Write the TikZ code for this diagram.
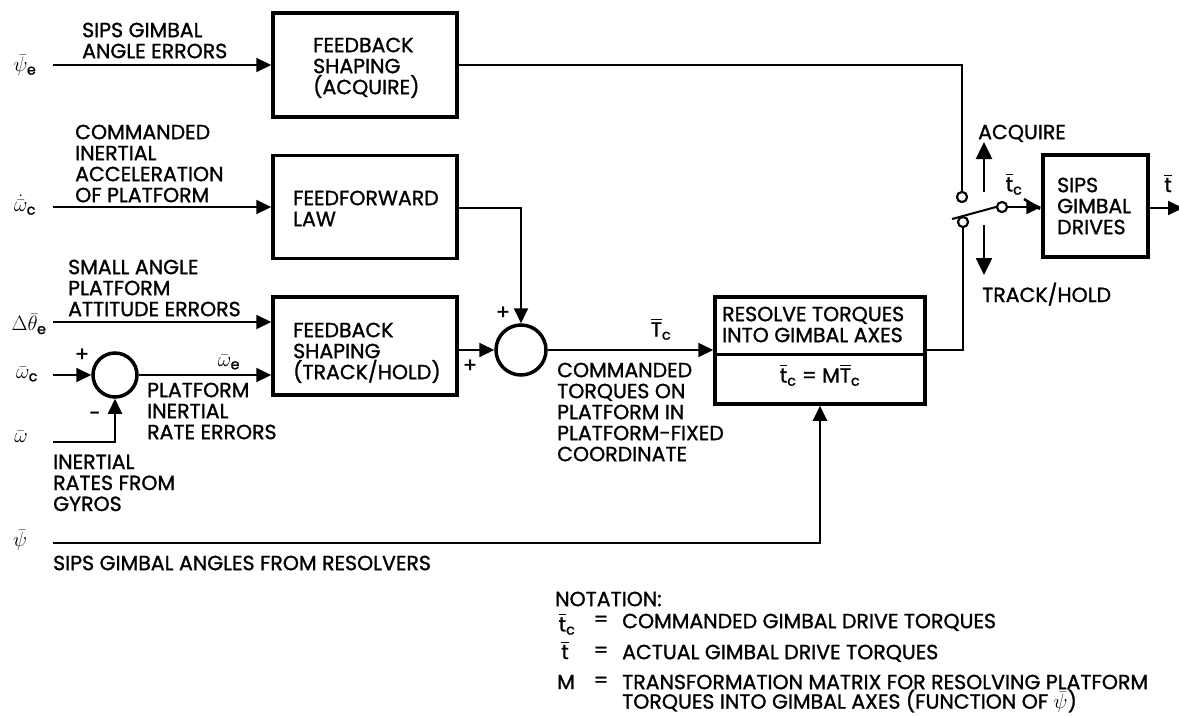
\documentclass[tikz,border=0pt]{standalone}
\usepackage{fontspec}
\usepackage{amsmath}
\setmainfont{Poppins}[FakeBold=1.2]
\usetikzlibrary{arrows.meta}
\begin{document}
\begin{tikzpicture}[x=1pt,y=-1pt,
  every node/.style={font=\fontsize{20.5}{21}\selectfont, inner sep=0pt},
  blk/.style={draw, line width=3.5pt, inner sep=0pt},
  sumc/.style={draw, circle, line width=3.5pt, inner sep=0pt},
  con/.style={line width=2pt},
  arr/.style={con, -{Triangle[length=15pt,width=14pt]}},
  bigarr/.style={line width=2.5pt, -{Triangle[length=17pt,width=16pt]}},
  lbl/.style={anchor=north west, align=left},
  sym/.style={anchor=center},
  contact/.style={draw, circle, line width=2pt, minimum size=10pt, inner sep=0pt, fill=white},
]
\useasboundingbox (0,0) rectangle (1179,716);

% blocks
\node[blk, minimum width=184, minimum height=104] (fba) at (365,65) {};
\node[blk, minimum width=184, minimum height=103] (ff) at (365,207) {};
\node[blk, minimum width=184, minimum height=98] (fbt) at (365,346) {};
\node[blk, minimum width=210, minimum height=107] (res) at (820,350.5) {};
\node[blk, minimum width=105, minimum height=102] (sips) at (1095.5,206) {};
\draw[line width=3pt] (res.west |- 0,354) -- (res.east |- 0,354);

% summing junctions
\node[sumc, minimum size=50] (sum1) at (521,350) {};
\node[sumc, minimum size=44] (sum2) at (115,375) {};

% switch
\node[contact] (ctop) at (962,197) {};
\node[contact] (cbot) at (963,222) {};
\node[contact] (piv) at (1002,207) {};
\coordinate (blade) at (952,219);
\coordinate (ua1) at (984,192);
\coordinate (ua2) at (984,142);
\coordinate (da1) at (984,225);
\coordinate (da2) at (984,275);

% input free ends
\coordinate (psie0) at (53,65);
\coordinate (wd0) at (53,207);
\coordinate (dt0) at (53,322);
\coordinate (wc0) at (53,375);
\coordinate (w0) at (53,442);
\coordinate (psi0) at (53,543);
\coordinate (outend) at (1183,208);

% connectors
\draw[arr] (psie0) -- (psie0 -| fba.west);
\draw[arr] (wd0) -- (wd0 -| ff.west);
\draw[arr] (dt0) -- (dt0 -| fbt.west);
\draw[arr] (wc0) -- (sum2.west);
\draw[arr] (w0) -- (w0 -| sum2.south) -- (sum2.south);
\draw[arr] (sum2.east) -- (sum2.east -| fbt.west);
\draw[arr] (ff.east |- 0,208) -- (sum1.north |- 0,208) -- (sum1.north);
\draw[arr] (fbt.east |- sum1) -- (sum1.west);
\draw[arr] (sum1.east) -- (sum1.east -| res.west);
\draw[arr] (psi0) -- (res.south |- psi0) -- (res.south);
\draw[con] (fba.east |- psie0) -- (ctop |- psie0) -- (ctop.north);
\draw[con] (res.east |- sum1) -- (cbot |- sum1) -- (cbot.south);
\draw[con] (blade) -- (piv.west);
\draw[arr] (piv.east) -- (piv.east -| sips.west);
\draw[arr] (sips.east |- outend) -- (outend);
\draw[bigarr] (ua1) -- (ua2);
\draw[bigarr] (da1) -- (da2);
\node[contact] at (ctop) {};
\node[contact] at (cbot) {};
\node[contact] at (piv) {};
\coordinate (ld1) at (1024,199);
\coordinate (ld2) at (1040,209);
\draw[line width=2.5pt] (ld1) -- (ld2);

% block texts
\node[lbl] (tfba) at (313,37.5) {FEEDBACK\\SHAPING\\(ACQUIRE)};
\node[lbl] (tff) at (293,190.5) {FEEDFORWARD\\LAW};
\node[lbl] (tfbt) at (293,322.5) {FEEDBACK\\SHAPING\\(TRACK/HOLD)};
\node[lbl] (tres) at (722,306.5) {RESOLVE TORQUES\\INTO GIMBAL AXES};
\node[sym] (tresm) at (820,375) {$\overline{\text{t}}_{\text{c}}$ = M$\overline{\text{T}}_{\text{c}}$};
\node[lbl] (tsips) at (1057,177.5) {SIPS\\GIMBAL\\DRIVES};

% signal labels
\node[lbl] (l1) at (82,22.5) {SIPS GIMBAL\\ANGLE ERRORS};
\node[lbl] (l2) at (75,124.5) {COMMANDED\\INERTIAL\\ACCELERATION\\OF PLATFORM};
\node[lbl] (l3) at (68,259.5) {SMALL ANGLE\\PLATFORM\\ATTITUDE ERRORS};
\node[lbl] (l4) at (147,382.5) {PLATFORM\\INERTIAL\\RATE ERRORS};
\node[lbl] (l5) at (53,454.5) {INERTIAL\\RATES FROM\\GYROS};
\node[lbl] (l6) at (557,362.5) {COMMANDED\\TORQUES ON\\PLATFORM IN\\PLATFORM-FIXED\\COORDINATE};
\node[lbl] (l7) at (53,555.5) {SIPS GIMBAL ANGLES FROM RESOLVERS};
\node[lbl] (l8) at (978,124.5) {ACQUIRE};
\node[lbl] (l9) at (982,282.5) {TRACK/HOLD};

% math labels
\node[sym] (s1) at (25,65) {$\bar{\psi}_{\text{e}}$};
\node[sym] (s2) at (25,205) {$\dot{\bar{\omega}}_{\text{c}}$};
\node[sym] (s3) at (29,324) {$\Delta\bar{\theta}_{\text{e}}$};
\node[sym] (s4) at (27,374) {$\bar{\omega}_{\text{c}}$};
\node[sym] (s5) at (21,437) {$\bar{\omega}$};
\node[sym] (s6) at (20,540) {$\bar{\psi}$};
\node[sym] (s7) at (229,362) {$\bar{\omega}_{\text{e}}$};
\node[sym] (s8) at (661,329) {$\overline{\text{T}}_{\text{c}}$};
\node[sym] (s9) at (1014,184) {$\overline{\text{t}}_{\text{c}}$};
\node[sym] (s10) at (1168,183) {$\overline{\text{t}}$};
\node[sym] (p1) at (82,355) {+};
\node[sym] (p2) at (95,416) {-};
\node[sym] (p3) at (503,313) {+};
\node[sym] (p4) at (470,366) {+};

% notation
\node[lbl] (n0) at (555,591.5) {NOTATION:};
\node[sym] (n1s) at (567,624) {$\overline{\text{t}}_{\text{c}}$};
\node[sym] (n1e) at (601,621) {=};
\node[lbl] (n1t) at (622,613.5) {COMMANDED GIMBAL DRIVE TORQUES};
\node[sym] (n2s) at (565,650) {$\overline{\text{t}}$};
\node[sym] (n2e) at (601,652) {=};
\node[lbl] (n2t) at (622,644.5) {ACTUAL GIMBAL DRIVE TORQUES};
\node[sym] (n3s) at (566,682) {M};
\node[sym] (n3e) at (601,682) {=};
\node[lbl, font=\fontsize{20.5}{19.5}\selectfont] (n3t) at (622,674.5) {TRANSFORMATION MATRIX FOR RESOLVING PLATFORM\\TORQUES INTO GIMBAL AXES (FUNCTION OF $\bar{\psi}$)};
\end{tikzpicture}
\end{document}
